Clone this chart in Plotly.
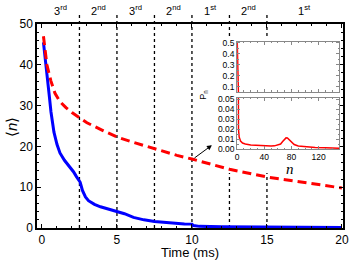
import plotly.graph_objects as go

# Main panel data
t_blue = [0.1, 0.2, 0.3, 0.4, 0.5, 0.6, 0.7, 0.8, 1.0, 1.2, 1.5, 1.8, 2.1, 2.3, 2.5, 2.55,
          2.7, 2.9, 3.1, 3.5, 3.9, 4.5, 5.0, 5.5, 6.1, 6.8, 7.5, 8.2, 8.9, 9.5, 10.0, 10.1,
          10.5, 12.0, 15.0, 20.0]
n_blue = [45.5, 42.5, 39.5, 36.5, 32.0, 28.5, 25.8, 23.5, 20.5, 18.4, 16.6, 15.3, 13.8, 12.6, 11.6, 11.2,
          9.2, 7.6, 6.7, 5.8, 5.2, 4.6, 4.1, 3.5, 2.6, 2.0, 1.6, 1.3, 1.15, 1.0, 0.95, 0.6,
          0.4, 0.3, 0.2, 0.1]

t_red = [0.1, 0.33, 0.6, 0.87, 1.2, 1.6, 2.0, 2.5, 3.0, 4.0, 5.0, 6.0, 7.5, 9.0, 10.0, 11.0,
         12.5, 15.0, 17.5, 20.0]
n_red = [47.0, 40.0, 36.0, 33.0, 31.0, 29.5, 28.3, 27.0, 25.8, 24.0, 22.3, 21.1, 19.4, 17.8, 16.9, 15.9,
         14.4, 12.5, 11.1, 9.8]

# Stage boundaries and labels
boundaries = [2.5, 5.0, 7.5, 10.0, 12.5, 15.0]
stage_pos = [1.25, 3.75, 6.25, 8.75, 11.25, 13.75, 17.5]
stage_num = ["3", "2", "3", "2", "1", "2", "1"]
stage_suf = ["rd", "nd", "rd", "nd", "st", "nd", "st"]

# Inset data (distribution P_n)
n_vals = [0, 1, 2, 3, 5, 8, 12, 20, 30, 40, 50, 55, 60, 64, 67, 70, 72, 74, 77, 80, 84, 90,
          100, 115, 130, 150]
p_vals = [0.55, 0.06, 0.02, 0.012, 0.008, 0.006, 0.005, 0.004, 0.0035, 0.003, 0.003, 0.0032,
          0.0038, 0.005, 0.0075, 0.0102, 0.0112, 0.011, 0.009, 0.0068, 0.0045, 0.003,
          0.0022, 0.0016, 0.0012, 0.0008]

# Arrow (data coords)
arrow_tail = (10.07, 16.9)
arrow_head = (11.33, 20.3)

FONT = "Liberation Sans, Arial, sans-serif"

fig = go.Figure()
fig.add_trace(go.Scatter(x=t_blue, y=n_blue, mode="lines", line=dict(color="#0000ff", width=3),
                         xaxis="x", yaxis="y", showlegend=False))
fig.add_trace(go.Scatter(x=t_red, y=n_red, mode="lines",
                         line=dict(color="#ff0000", width=3, dash="9px,5px"),
                         xaxis="x", yaxis="y", showlegend=False))
fig.add_trace(go.Scatter(x=n_vals, y=p_vals, mode="lines", line=dict(color="#ff0000", width=1.5),
                         xaxis="x2", yaxis="y2", showlegend=False))
fig.add_trace(go.Scatter(x=n_vals, y=p_vals, mode="lines", line=dict(color="#ff0000", width=1.5),
                         xaxis="x3", yaxis="y3", showlegend=False))

shapes = []
for b in boundaries:
    shapes.append(dict(type="line", xref="x", yref="paper", x0=b, x1=b, y0=0, y1=1.045,
                       line=dict(color="black", width=1.3, dash="dot"), layer="below"))
# white background of inset region
shapes.append(dict(type="rect", xref="paper", yref="paper", x0=0.52, x1=0.995, y0=0.27, y1=0.936,
                   fillcolor="white", line=dict(width=0), layer="below"))

C = dict(xanchor="center", yanchor="middle", showarrow=False)
annotations = []
for p, num, suf in zip(stage_pos, stage_num, stage_suf):
    annotations.append(dict(C, x=p, y=1.07, xref="x", yref="paper", text=f"{num}<sup>{suf}</sup>",
                            font=dict(size=11, family=FONT, color="black")))
annotations.append(dict(x=arrow_head[0], y=arrow_head[1], ax=arrow_tail[0], ay=arrow_tail[1],
                        xref="x", yref="y", axref="x", ayref="y", text="", showarrow=True,
                        arrowhead=2, arrowsize=1, arrowwidth=1, arrowcolor="black"))
annotations.append(dict(C, x=0.545, y=0.652, xref="paper", yref="paper", text="P<sub>n</sub>",
                        textangle=-90, font=dict(size=9, family=FONT, color="black")))
annotations.append(dict(C, x=0.827, y=0.29, xref="paper", yref="paper", text="<i>n</i>",
                        font=dict(size=15, family="Liberation Serif, serif", color="black")))
# axis titles
annotations.append(dict(C, x=0.5, y=-0.122, xref="paper", yref="paper", text="Time (ms)",
                        font=dict(size=13, family=FONT, color="black")))
annotations.append(dict(C, x=-0.085, y=0.495, xref="paper", yref="paper", text="⟨<i>n</i>⟩",
                        textangle=-90, font=dict(size=15, family=FONT, color="black")))

main_ax = dict(showline=True, linecolor="black", linewidth=1.5, mirror="ticks", ticks="inside",
               tickcolor="black", ticklen=4, tickwidth=1, showgrid=False, zeroline=False,
               automargin=False, tickfont=dict(size=12, family=FONT, color="black"))
inset_ax = dict(showline=True, linecolor="#888888", linewidth=1, mirror="ticks", ticks="inside",
                tickcolor="#888888", ticklen=3, tickwidth=1, showgrid=False, zeroline=False,
                automargin=False, tickfont=dict(size=8.5, family=FONT, color="black"))

fig.update_layout(
    width=349, height=268,
    margin=dict(l=37, r=6, t=24, b=40),
    paper_bgcolor="white", plot_bgcolor="white",
    font=dict(family=FONT, color="black"),
    xaxis=dict(main_ax, range=[-0.33, 20.07], tickvals=[0, 5, 10, 15, 20],
               minor=dict(dtick=1, ticks="inside", ticklen=2.5, tickcolor="black")),
    yaxis=dict(main_ax, range=[0, 50], tickvals=[0, 10, 20, 30, 40, 50],
               minor=dict(dtick=2, ticks="inside", ticklen=2.5, tickcolor="black")),
    xaxis2=dict(inset_ax, domain=[0.654, 0.987], anchor="y2", range=[0, 150], tickvals=[0, 40, 80, 120],
                showticklabels=False, minor=dict(dtick=10, ticks="inside", ticklen=1.5, tickcolor="#888888")),
    yaxis2=dict(inset_ax, domain=[0.667, 0.913], anchor="x2", range=[0.055, 0.51],
                tickvals=[0.1, 0.2, 0.3, 0.4, 0.5], ticktext=["0.1", "0.2", "0.3", "0.4", "0.5"],
                minor=dict(dtick=0.05, ticks="inside", ticklen=1.5, tickcolor="#888888")),
    xaxis3=dict(inset_ax, domain=[0.654, 0.987], anchor="y3", range=[0, 150], tickvals=[0, 40, 80, 120],
                minor=dict(dtick=10, ticks="inside", ticklen=1.5, tickcolor="#888888")),
    yaxis3=dict(inset_ax, domain=[0.387, 0.639], anchor="x3", range=[0, 0.0515],
                tickvals=[0, 0.01, 0.02, 0.03, 0.04, 0.05],
                ticktext=["0.00", "0.01", "0.02", "0.03", "0.04", "0.05"],
                minor=dict(dtick=0.005, ticks="inside", ticklen=1.5, tickcolor="#888888")),
    shapes=shapes, annotations=annotations,
)

# remove the default page margin so the 349x268 figure fills the window exactly
fig.write_html("out.html", config={"displayModeBar": False},
               post_script="document.body.style.margin='0';")
